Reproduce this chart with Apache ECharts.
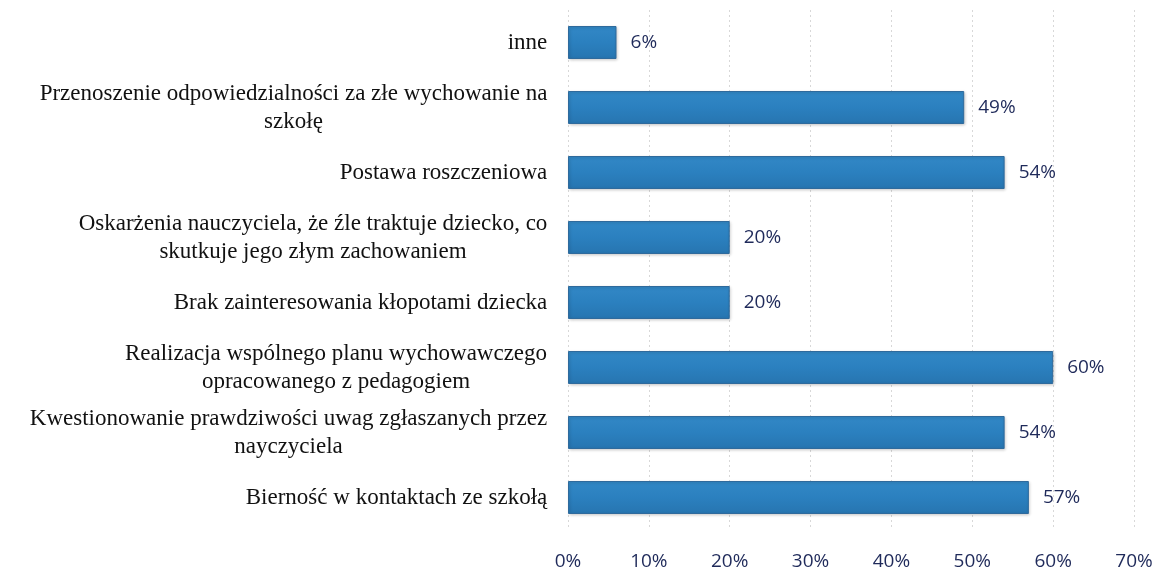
<!DOCTYPE html>
<html><head><meta charset="utf-8">
<script src="https://cdn.jsdelivr.net/npm/echarts@6/dist/echarts.min.js"></script>
<style>html,body{margin:0;padding:0;background:#fff}#c{width:1162px;height:582px}</style>
</head><body><div id="c"></div>
<script>
const categories = [
  "inne",
  "Przenoszenie odpowiedzialności za złe wychowanie na\nszkołę",
  "Postawa roszczeniowa",
  "Oskarżenia nauczyciela, że źle traktuje dziecko, co\nskutkuje jego złym zachowaniem",
  "Brak zainteresowania kłopotami dziecka",
  "Realizacja wspólnego planu wychowawczego\nopracowanego z pedagogiem",
  "Kwestionowanie prawdziwości uwag zgłaszanych przez\nnayczyciela",
  "Bierność w kontaktach ze szkołą"
];
const values = [6, 49, 54, 20, 20, 60, 54, 57];
const tickLabels = ["0%","10%","20%","30%","40%","50%","60%","70%"];

const LABEL_FONT = 'Liberation Serif, Times New Roman, serif';
const LABEL_SIZE = 23;
const ctx = document.createElement('canvas').getContext('2d');
ctx.font = LABEL_SIZE + 'px ' + LABEL_FONT;
const rich = {};
categories.forEach(function (c, i) {
  const w = Math.max.apply(null, c.split('\n').map(function (s) { return ctx.measureText(s).width; }));
  rich['w' + i] = {width: Math.ceil(w) + 1, align: 'center', fontSize: LABEL_SIZE, lineHeight: 28,
                   color: '#111', fontFamily: LABEL_FONT};
});

const chart = echarts.init(document.getElementById('c'));
chart.setOption({
  animation: false,
  backgroundColor: '#fff',
  grid: {left: 568, right: 28, top: 10, bottom: 52},
  xAxis: {
    type: 'value', min: 0, max: 70, interval: 10,
    axisLine: {show: false}, axisTick: {show: false},
    splitLine: {show: true, lineStyle: {color: '#d8d8d8', type: [2, 3], width: 1}},
    axisLabel: {
      margin: 22, color: '#1f2a5a', fontSize: 19, fontFamily: 'Open Sans, Liberation Sans, sans-serif',
      formatter: function (v) { return tickLabels[Math.round(v / 10)]; }
    }
  },
  yAxis: {
    type: 'category', data: categories, inverse: true,
    axisLine: {show: false}, axisTick: {show: false}, splitLine: {show: false},
    axisLabel: {
      margin: 20, color: '#111', fontSize: LABEL_SIZE, lineHeight: 28, align: 'right',
      fontFamily: LABEL_FONT,
      formatter: function (v, idx) {
        const i = categories.indexOf(v);
        return v.split('\n').map(function (s) { return '{w' + i + '|' + s + '}'; }).join('\n');
      },
      rich: rich
    }
  },
  series: [{
    type: 'bar', data: values, barWidth: 33,
    itemStyle: {
      color: new echarts.graphic.LinearGradient(0, 0, 0, 1, [
        {offset: 0, color: '#3288c6'}, {offset: 0.5, color: '#2b80bf'}, {offset: 1, color: '#2775b0'}
      ]),
      borderColor: '#2f6a9c', borderWidth: 1,
      shadowColor: 'rgba(0,0,0,0.2)', shadowBlur: 3, shadowOffsetX: 1, shadowOffsetY: 1
    },
    label: {
      show: true, position: 'right', distance: 14, color: '#1f2a5a', fontSize: 19,
      fontFamily: 'Open Sans, Liberation Sans, sans-serif',
      formatter: function (p) { return p.value + '%'; }
    }
  }]
});
</script></body></html>
